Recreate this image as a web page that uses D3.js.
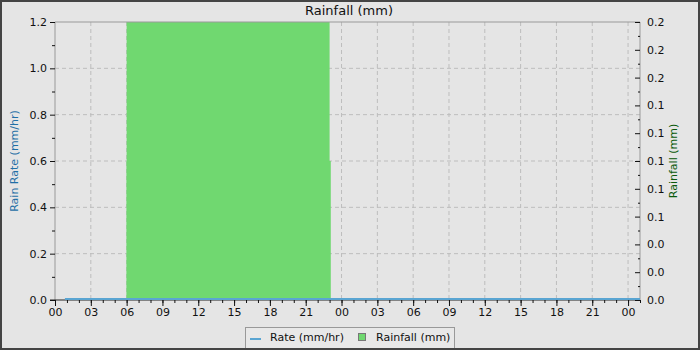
<!DOCTYPE html>
<html>
<head>
<meta charset="utf-8">
<script src="https://cdn.jsdelivr.net/npm/d3@7"></script>
<style>
  body { margin: 0; background: #e5e5e5; }
  svg { display: block; font-family: "DejaVu Sans", sans-serif; }
</style>
</head>
<body>
<div id="chart"></div>
<script>
// Chart data (hours counted from 00:00 of the first day)
const rateHours = [0.83, 6, 12, 18, 24, 30, 36, 42, 49];
const rateValues = [0, 0, 0, 0, 0, 0, 0, 0, 0];
const rainStart = [6, 6];
const rainEnd = [23, 23.1];
const rainValues = [0.2, 0.1];
const leftTicks = [0, 0.2, 0.4, 0.6, 0.8, 1.0, 1.2];
const rightTicks = [0, 0.02, 0.04, 0.06, 0.08, 0.1, 0.12, 0.14, 0.16, 0.18, 0.2];

const width = 700, height = 350;
const margin = { top: 22, right: 60, bottom: 50, left: 55 };
const base = new Date(2024, 0, 1, 0, 0);
const toDate = h => new Date(base.getTime() + h * 3600 * 1000);

const svg = d3.select('#chart').append('svg')
  .attr('width', width)
  .attr('height', height);

svg.append('rect')
  .attr('x', 1).attr('y', 1)
  .attr('width', width - 2).attr('height', height - 2)
  .attr('fill', '#e5e5e5')
  .attr('stroke', '#444').attr('stroke-width', 2);

const x = d3.scaleTime()
  .domain([toDate(0), toDate(49)])
  .range([margin.left, width - margin.right]);
const yLeft = d3.scaleLinear().domain([0, 1.2]).range([height - margin.bottom, margin.top]);
const yRight = d3.scaleLinear().domain([0, 0.2]).range([height - margin.bottom, margin.top]);

const x0 = margin.left, x1 = width - margin.right;
const y0 = height - margin.bottom, y1 = margin.top;

// grid
const majorX = d3.timeHour.every(3).range(toDate(0), toDate(49.01));
svg.append('g').selectAll('line')
  .data(majorX.filter(d => x(d) > x0 + 1))
  .enter().append('line')
  .attr('x1', d => x(d)).attr('x2', d => x(d))
  .attr('y1', y1).attr('y2', y0)
  .attr('stroke', '#bdbdbd').attr('stroke-dasharray', '4,3');
svg.append('g').selectAll('line')
  .data(leftTicks.filter(v => v > 0 && v < 1.2))
  .enter().append('line')
  .attr('x1', x0).attr('x2', x1)
  .attr('y1', d => yLeft(d)).attr('y2', d => yLeft(d))
  .attr('stroke', '#bdbdbd').attr('stroke-dasharray', '4,3');

// rainfall bars
svg.append('g').selectAll('rect')
  .data(rainValues.map((v, i) => ({ s: rainStart[i], e: rainEnd[i], v })))
  .enter().append('rect')
  .attr('x', d => x(toDate(d.s)))
  .attr('width', d => x(toDate(d.e)) - x(toDate(d.s)))
  .attr('y', d => yRight(d.v))
  .attr('height', d => y0 - yRight(d.v))
  .attr('fill', '#70d870');

// frame
svg.append('line').attr('x1', x0).attr('x2', x1).attr('y1', y1).attr('y2', y1).attr('stroke', '#999');
svg.append('line').attr('x1', x0).attr('x2', x0).attr('y1', y1).attr('y2', y0).attr('stroke', '#999');
svg.append('line').attr('x1', x1).attr('x2', x1).attr('y1', y1).attr('y2', y0).attr('stroke', '#999');
svg.append('line').attr('x1', x0 - 5).attr('x2', x1).attr('y1', y0).attr('y2', y0).attr('stroke', '#222');

// rate line
const line = d3.line()
  .x((d, i) => x(toDate(rateHours[i])))
  .y(d => yLeft(d) - 1);
svg.append('path')
  .datum(rateValues)
  .attr('d', line)
  .attr('fill', 'none')
  .attr('stroke', '#5aa5d2')
  .attr('stroke-width', 2);

// x axis
const xAxis = svg.append('g')
  .attr('transform', `translate(0,${y0})`)
  .call(d3.axisBottom(x).ticks(d3.timeHour.every(3)).tickFormat(d3.timeFormat('%H')).tickSize(6).tickPadding(2));
svg.append('g')
  .attr('transform', `translate(0,${y0})`)
  .call(d3.axisBottom(x).ticks(d3.timeHour.every(1)).tickFormat('').tickSize(3))
  .call(g => g.select('.domain').remove());
xAxis.select('.domain').remove();

// left axis
const leftAxis = svg.append('g')
  .attr('transform', `translate(${x0},0)`)
  .call(d3.axisLeft(yLeft).tickValues(leftTicks).tickFormat(d3.format('.1f')).tickSize(5).tickPadding(3));
leftAxis.select('.domain').remove();
svg.append('g')
  .attr('transform', `translate(${x0},0)`)
  .call(d3.axisLeft(yLeft).tickValues(d3.range(0.1, 1.2, 0.2)).tickFormat('').tickSize(3))
  .call(g => g.select('.domain').remove());

// right axis (ticks point inward)
const rightAxis = svg.append('g')
  .attr('transform', `translate(${x1},0)`)
  .call(d3.axisRight(yRight).tickValues(rightTicks).tickFormat(d3.format('.1f')).tickSize(-5).tickPadding(7));
rightAxis.select('.domain').remove();
svg.append('g')
  .attr('transform', `translate(${x1},0)`)
  .call(d3.axisRight(yRight).tickValues(d3.range(0.01, 0.2, 0.02)).tickFormat('').tickSize(-2))
  .call(g => g.select('.domain').remove());

svg.selectAll('.tick text').attr('font-size', 11).attr('fill', '#111').attr('font-family', '"DejaVu Sans", sans-serif');
svg.selectAll('.tick line').attr('stroke', '#111');

// titles
svg.append('text')
  .attr('x', 349).attr('y', 15)
  .attr('text-anchor', 'middle')
  .attr('font-size', 13).attr('fill', '#111')
  .text('Rainfall (mm)');
svg.append('text')
  .attr('transform', `translate(18,${(y0 + y1) / 2}) rotate(-90)`)
  .attr('text-anchor', 'middle')
  .attr('font-size', 11).attr('fill', '#1f6fa6')
  .text('Rain Rate (mm/hr)');
svg.append('text')
  .attr('transform', `translate(677,${(y0 + y1) / 2}) rotate(-90)`)
  .attr('text-anchor', 'middle')
  .attr('font-size', 11).attr('fill', '#0a5a0a')
  .text('Rainfall (mm)');

// legend
const legend = svg.append('g');
legend.append('rect')
  .attr('x', 245.5).attr('y', 327.5).attr('width', 209).attr('height', 24)
  .attr('fill', '#e8e8e8').attr('stroke', '#999');
legend.append('line')
  .attr('x1', 250).attr('x2', 261).attr('y1', 339).attr('y2', 339)
  .attr('stroke', '#5aa5d2').attr('stroke-width', 2);
legend.append('text')
  .attr('x', 270).attr('y', 341)
  .attr('font-size', 11).attr('fill', '#111')
  .text('Rate (mm/hr)');
legend.append('rect')
  .attr('x', 358.5).attr('y', 333.5).attr('width', 7).attr('height', 7)
  .attr('fill', '#70d870').attr('stroke', '#777');
legend.append('text')
  .attr('x', 376).attr('y', 341)
  .attr('font-size', 11).attr('fill', '#111')
  .text('Rainfall (mm)');

// outer border on top
svg.append('rect')
  .attr('x', 1).attr('y', 1)
  .attr('width', width - 2).attr('height', height - 2)
  .attr('fill', 'none')
  .attr('stroke', '#444').attr('stroke-width', 2);
</script>
</body>
</html>
